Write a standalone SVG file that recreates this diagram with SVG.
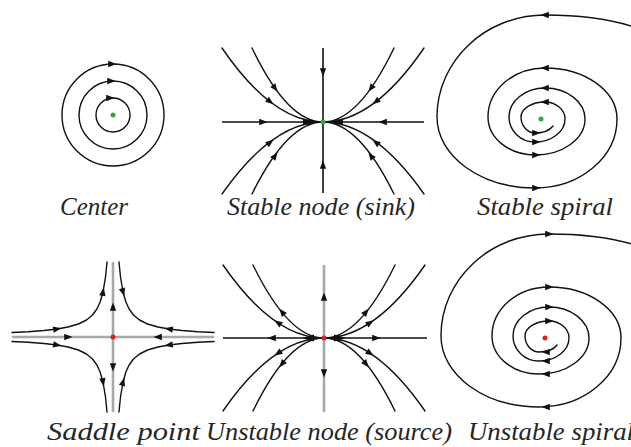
<svg xmlns="http://www.w3.org/2000/svg" xmlns:xlink="http://www.w3.org/1999/xlink" width="631" height="447" viewBox="0 0 631 447">
<style>
.tr{fill:none;stroke:#111;stroke-width:1.4;stroke-linejoin:round;stroke-linecap:round}
.ax{fill:none;stroke:#111;stroke-width:1.6}
.gax{fill:none;stroke:#a8a8a8;stroke-width:2.6}
.ah{fill:#111}
.lbl{font-family:"Liberation Serif","Times New Roman",serif;font-style:italic;font-size:25px;fill:#262626}
.sdot{fill:#3aa63a}
.udot{fill:#e02020}
</style>
<defs>
<path id="ah" d="M4.5,0 L-3.8,-3.2 L-3.8,3.2 Z"/>
<path id="ahL" d="M6,0 L-6,-3.6 L-6,3.6 Z"/>
<path id="spiral" d="M640,29 C610,18 580,15 545,15 C485.4,15 437,60.7 437,117 C437,156.2 480.9,188 535,188 C580.3,188 617,157.1 617,119 C617,90.8 584.8,68 545,68 C513.5,68 488,89.9 488,117 C488,138 509,155 535,155 C562.6,155 585,138.9 585,119 C585,101.9 567.1,88 545,88 C525.1,88 509,101 509,117 C509,130.8 520.6,142 535,142 C551.6,142 565,131.7 565,119 C565,109.6 556,102 545,102 C531.7,102 521,108.7 521,117 C521,125.8 527.3,133 535,133 C543,133 550,130 553,126"/>
<path id="hyp" d="M107,262 L105.5,277 L103,292 L100.1,302 L96.9,309 L92.5,315 L86.5,320 L78.4,324 L68,327 L57,329 L44,330.5 L28,331.7 L12,332.5"/>
</defs>

<g id="node-center">
<circle class="tr" cx="113" cy="115" r="51"/>
<circle class="tr" cx="113" cy="115" r="34"/>
<circle class="tr" cx="113" cy="115" r="17"/>
<use href="#ah" class="ah" transform="translate(112,64)"/>
<use href="#ah" class="ah" transform="translate(111,81)"/>
<use href="#ah" class="ah" transform="translate(110,98)"/>
<circle class="sdot" cx="113" cy="115" r="2.5"/>
<text class="lbl" x="60" y="215" textLength="68" lengthAdjust="spacingAndGlyphs">Center</text>
</g>

<g id="node-stable-node">
<line class="ax" x1="222" y1="122" x2="424" y2="122"/>
<line class="ax" x1="323" y1="48" x2="323" y2="193"/>
<path class="tr" d="M222,48 Q272.5,122 323,122 M252,48 Q287.5,122 323,122 M424,48 Q373.5,122 323,122 M394,48 Q358.5,122 323,122 M222,194 Q272.5,122 323,122 M252,194 Q287.5,122 323,122 M424,194 Q373.5,122 323,122 M394,194 Q358.5,122 323,122"/>
<use href="#ah" class="ah" transform="translate(263,122)"/>
<use href="#ah" class="ah" transform="translate(383,122) rotate(180)"/>
<use href="#ah" class="ah" transform="translate(323,72) rotate(90)"/>
<use href="#ah" class="ah" transform="translate(323,165) rotate(-90)"/>
<use href="#ah" class="ah" transform="translate(270,101.6) rotate(37.6)"/>
<use href="#ah" class="ah" transform="translate(275,88.2) rotate(54.7)"/>
<use href="#ah" class="ah" transform="translate(376,101.6) rotate(142.4)"/>
<use href="#ah" class="ah" transform="translate(371,88.2) rotate(125.3)"/>
<use href="#ah" class="ah" transform="translate(270,142.4) rotate(-37.6)"/>
<use href="#ah" class="ah" transform="translate(275,155.8) rotate(-54.7)"/>
<use href="#ah" class="ah" transform="translate(376,142.4) rotate(-142.4)"/>
<use href="#ah" class="ah" transform="translate(371,155.8) rotate(-125.3)"/>
<use href="#ahL" class="ah" transform="translate(309,122)"/>
<use href="#ahL" class="ah" transform="translate(337,122) rotate(180)"/>
<circle class="sdot" cx="323" cy="122" r="2.5"/>
<text class="lbl" x="227" y="215" textLength="188" lengthAdjust="spacingAndGlyphs">Stable node (sink)</text>
</g>

<g id="node-stable-spiral">
<use href="#spiral" class="tr"/>
<use href="#ah" class="ah" transform="translate(545,15) rotate(180)"/>
<use href="#ah" class="ah" transform="translate(545,68) rotate(180)"/>
<use href="#ah" class="ah" transform="translate(545,88) rotate(180)"/>
<use href="#ah" class="ah" transform="translate(545,102) rotate(180)"/>
<use href="#ah" class="ah" transform="translate(536,188)"/>
<use href="#ah" class="ah" transform="translate(536,155)"/>
<use href="#ah" class="ah" transform="translate(536,142)"/>
<use href="#ah" class="ah" transform="translate(536,133)"/>
<circle class="sdot" cx="541" cy="119" r="2.5"/>
<text class="lbl" x="477" y="215" textLength="136" lengthAdjust="spacingAndGlyphs">Stable spiral</text>
</g>

<g id="node-saddle">
<line class="gax" x1="12" y1="337" x2="214" y2="337"/>
<line class="gax" x1="113" y1="262" x2="113" y2="412"/>
<use href="#hyp" class="tr"/>
<use href="#hyp" class="tr" transform="matrix(-1,0,0,1,226,0)"/>
<use href="#hyp" class="tr" transform="matrix(1,0,0,-1,0,674)"/>
<use href="#hyp" class="tr" transform="matrix(-1,0,0,-1,226,674)"/>
<use href="#ah" class="ah" transform="translate(113,307) rotate(-90)"/>
<use href="#ah" class="ah" transform="translate(113,367) rotate(90)"/>
<use href="#ah" class="ah" transform="translate(68,337)"/>
<use href="#ah" class="ah" transform="translate(158,337) rotate(180)"/>
<use href="#ah" class="ah" transform="translate(103,292) rotate(-80.5)"/>
<use href="#ah" class="ah" transform="translate(123,292) rotate(73.8)"/>
<use href="#ah" class="ah" transform="translate(57,329) rotate(-10)"/>
<use href="#ah" class="ah" transform="translate(57,345) rotate(10)"/>
<use href="#ah" class="ah" transform="translate(169,329) rotate(190)"/>
<use href="#ah" class="ah" transform="translate(169,345) rotate(170)"/>
<use href="#ah" class="ah" transform="translate(103,382) rotate(80.5)"/>
<use href="#ah" class="ah" transform="translate(123,382) rotate(-73.8)"/>
<circle class="udot" cx="113" cy="337" r="2.5"/>
<text class="lbl" x="47" y="440" textLength="153" lengthAdjust="spacingAndGlyphs">Saddle point</text>
</g>

<g id="node-unstable-node">
<line class="gax" x1="324" y1="265" x2="324" y2="412"/>
<line class="ax" x1="223" y1="338" x2="427" y2="338"/>
<path class="tr" d="M223,265 Q273.5,338 324,338 M253,265 Q288.5,338 324,338 M425,265 Q374.5,338 324,338 M395,265 Q359.5,338 324,338 M223,411 Q273.5,338 324,338 M253,411 Q288.5,338 324,338 M425,411 Q374.5,338 324,338 M395,411 Q359.5,338 324,338"/>
<use href="#ah" class="ah" transform="translate(272,338) rotate(180)"/>
<use href="#ah" class="ah" transform="translate(376,338)"/>
<use href="#ah" class="ah" transform="translate(324,297) rotate(-90)"/>
<use href="#ah" class="ah" transform="translate(324,373) rotate(90)"/>
<use href="#ah" class="ah" transform="translate(278,322.7) rotate(-146.3)"/>
<use href="#ah" class="ah" transform="translate(282,312.1) rotate(-129)"/>
<use href="#ah" class="ah" transform="translate(370,322.7) rotate(-33.7)"/>
<use href="#ah" class="ah" transform="translate(366,312.1) rotate(-51)"/>
<use href="#ah" class="ah" transform="translate(278,353.3) rotate(146.3)"/>
<use href="#ah" class="ah" transform="translate(282,363.9) rotate(129)"/>
<use href="#ah" class="ah" transform="translate(370,353.3) rotate(33.7)"/>
<use href="#ah" class="ah" transform="translate(366,363.9) rotate(51)"/>
<use href="#ahL" class="ah" transform="translate(308,338) rotate(180)"/>
<use href="#ahL" class="ah" transform="translate(340,338)"/>
<circle class="udot" cx="324" cy="338" r="2.5"/>
<text class="lbl" x="206" y="440" textLength="246" lengthAdjust="spacingAndGlyphs">Unstable node (source)</text>
</g>

<g id="node-unstable-spiral">
<use href="#spiral" class="tr" transform="translate(4,219)"/>
<use href="#ah" class="ah" transform="translate(549,234)"/>
<use href="#ah" class="ah" transform="translate(549,287)"/>
<use href="#ah" class="ah" transform="translate(549,307)"/>
<use href="#ah" class="ah" transform="translate(549,321)"/>
<use href="#ah" class="ah" transform="translate(546,407) rotate(180)"/>
<use href="#ah" class="ah" transform="translate(546,374) rotate(180)"/>
<use href="#ah" class="ah" transform="translate(546,361) rotate(180)"/>
<use href="#ah" class="ah" transform="translate(546,352) rotate(180)"/>
<circle class="udot" cx="545" cy="338" r="2.5"/>
<text class="lbl" x="468" y="440" textLength="166" lengthAdjust="spacingAndGlyphs">Unstable spiral</text>
</g>
</svg>
